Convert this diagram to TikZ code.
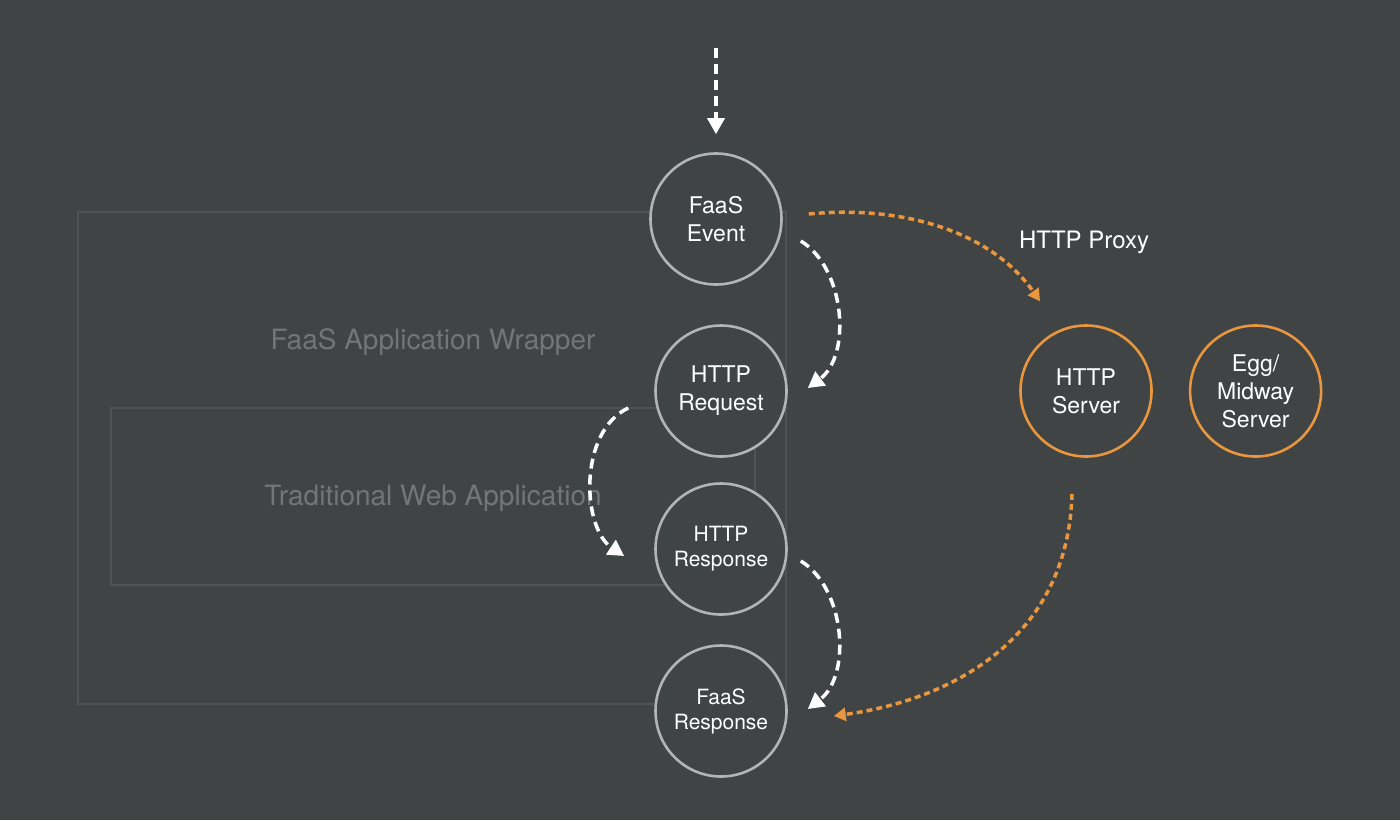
\documentclass[tikz,border=0pt]{standalone}
\usepackage{fontspec}
\setmainfont{TeX Gyre Heros}
\usepackage{tikz}
\usetikzlibrary{arrows.meta,positioning}
\definecolor{bgGray}{HTML}{404445}
\definecolor{ringGray}{HTML}{B4B4B4}
\definecolor{proxyOrange}{HTML}{E9963E}
\definecolor{wrapGray}{HTML}{4F5354}
\definecolor{wrapText}{HTML}{717676}

\begin{document}
\begin{tikzpicture}[x=1pt, y=-1pt,
    stage/.style={circle, draw=ringGray, fill=bgGray, line width=2.6pt,
                  minimum size=131pt, inner sep=0pt, text=white, align=center,
                  font=\fontsize{23}{28}\selectfont},
    smalltxt/.style={font=\fontsize{21}{25}\selectfont},
    server/.style={stage, draw=proxyOrange},
    wrapbox/.style={draw=wrapGray, line width=2.5pt},
    wraplbl/.style={text=wrapText, font=\fontsize{28}{32}\selectfont},
    flow/.style={white, line width=3.5pt, dash pattern=on 10pt off 6pt,
                 -{Triangle[length=16pt,width=17pt]}},
    proxy/.style={proxyOrange, line width=3.5pt, dash pattern=on 6pt off 4pt,
                  -{Triangle[length=12pt,width=13pt]}}
  ]
    \path[use as bounding box, fill=bgGray] (0,0) rectangle (1400,820);

    \draw[wrapbox] (78,212) rectangle (786,704);
    \draw[wrapbox] (111,408) rectangle (755,585);
    \node[wraplbl] (wrapname) at (433,342) {FaaS Application Wrapper};
    \node[wraplbl] (webname)  at (433,498) {Traditional Web Application};

    \node[stage] (evt)  at (716,219) {FaaS\\Event};
    \node[stage] (req)  at (721,391) {HTTP\\Request};
    \node[stage, smalltxt] (resp) at (721,549) {HTTP\\Response};
    \node[stage, smalltxt] (fres) at (721,711) {FaaS\\Response};
    \node[server] (srv) at (1086,391) {HTTP\\Server};
    \node[server, right=36pt of srv] (egg) {Egg/\\Midway\\Server};
    \node[text=white, font=\fontsize{24}{28}\selectfont] (proxylbl) at (1084,242) {HTTP Proxy};

    \coordinate (entry) at (716,48);
    \draw[flow] (entry) -- ([yshift=18pt]evt.north);
    \draw[flow] ([xshift=18pt,yshift=-22pt]evt.east)
      .. controls (845,268) and (852,355) .. ([xshift=20pt,yshift=3pt]req.east);
    \draw[flow] ([xshift=-26pt,yshift=-17pt]req.west)
      .. controls (578,432) and (582,528) .. ([xshift=-30pt,yshift=-7pt]resp.west);
    \draw[flow] ([xshift=13pt,yshift=-12pt]resp.east)
      .. controls (845,588) and (852,675) .. ([xshift=20pt,yshift=2pt]fres.east);

    \draw[proxy] ([xshift=26pt,yshift=5pt]evt.east)
      .. controls (900,205) and (990,230) .. ([xshift=-46pt,yshift=23pt]srv.north);
    \draw[proxy] ([xshift=-14pt,yshift=-36pt]srv.south)
      .. controls (1068,640) and (950,700) .. ([xshift=46pt,yshift=-5pt]fres.east);
\end{tikzpicture}
\end{document}
